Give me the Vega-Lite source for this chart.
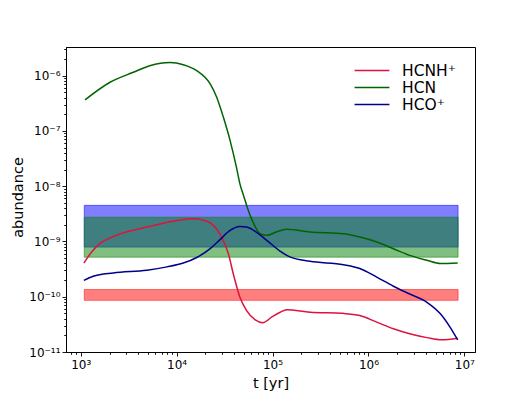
{
  "$schema": "https://vega.github.io/schema/vega-lite/v6.json",
  "width": 409,
  "height": 305,
  "autosize": "none",
  "padding": {"left": 66, "top": 47, "right": 54, "bottom": 46},
  "background": "white",
  "config": {
    "font": "DejaVu Sans",
    "view": {"stroke": "black", "strokeWidth": 1},
    "axis": {
      "grid": false,
      "domainColor": "black",
      "domainWidth": 1,
      "tickColor": "black",
      "tickWidth": 0.9,
      "labelColor": "black",
      "labelFont": "DejaVu Sans",
      "labelFontSize": 12,
      "titleFont": "DejaVu Sans",
      "titleFontWeight": "normal",
      "titleColor": "black"
    },
    "legend": {"labelFont": "DejaVu Sans"}
  },
  "datasets": {
    "bands": [
      {"species": "HCNH+", "t0": 1090, "t1": 8600000, "lo": 8.6e-11, "hi": 1.35e-10},
      {"species": "HCO+", "t0": 1090, "t1": 8600000, "lo": 7.9e-10, "hi": 4.5e-9},
      {"species": "HCN", "t0": 1090, "t1": 8600000, "lo": 5.2e-10, "hi": 2.75e-9}
    ],
    "curves": [
      {"species": "HCNH⁺", "t": 1080, "abundance": 4.07e-10},
      {"species": "HCNH⁺", "t": 1300, "abundance": 6.46e-10},
      {"species": "HCNH⁺", "t": 1580, "abundance": 9.12e-10},
      {"species": "HCNH⁺", "t": 2190, "abundance": 1.23e-9},
      {"species": "HCNH⁺", "t": 3270, "abundance": 1.55e-9},
      {"species": "HCNH⁺", "t": 4900, "abundance": 1.82e-9},
      {"species": "HCNH⁺", "t": 7240, "abundance": 2.14e-9},
      {"species": "HCNH⁺", "t": 10840, "abundance": 2.45e-9},
      {"species": "HCNH⁺", "t": 14930, "abundance": 2.57e-9},
      {"species": "HCNH⁺", "t": 20420, "abundance": 2.34e-9},
      {"species": "HCNH⁺", "t": 25120, "abundance": 1.82e-9},
      {"species": "HCNH⁺", "t": 29510, "abundance": 1.2e-9},
      {"species": "HCNH⁺", "t": 34670, "abundance": 6.0e-10},
      {"species": "HCNH⁺", "t": 38900, "abundance": 2.63e-10},
      {"species": "HCNH⁺", "t": 45710, "abundance": 9.8e-11},
      {"species": "HCNH⁺", "t": 53700, "abundance": 5.6e-11},
      {"species": "HCNH⁺", "t": 66070, "abundance": 3.8e-11},
      {"species": "HCNH⁺", "t": 79430, "abundance": 3.39e-11},
      {"species": "HCNH⁺", "t": 97720, "abundance": 4.27e-11},
      {"species": "HCNH⁺", "t": 120200, "abundance": 5.25e-11},
      {"species": "HCNH⁺", "t": 140600, "abundance": 5.82e-11},
      {"species": "HCNH⁺", "t": 245500, "abundance": 5.25e-11},
      {"species": "HCNH⁺", "t": 549500, "abundance": 5.0e-11},
      {"species": "HCNH⁺", "t": 812800, "abundance": 4.57e-11},
      {"species": "HCNH⁺", "t": 1220000, "abundance": 3.47e-11},
      {"species": "HCNH⁺", "t": 1820000, "abundance": 2.63e-11},
      {"species": "HCNH⁺", "t": 2690000, "abundance": 2.14e-11},
      {"species": "HCNH⁺", "t": 4070000, "abundance": 1.82e-11},
      {"species": "HCNH⁺", "t": 5750000, "abundance": 1.66e-11},
      {"species": "HCNH⁺", "t": 8510000, "abundance": 1.78e-11},
      {"species": "HCN", "t": 1110, "abundance": 3.65e-7},
      {"species": "HCN", "t": 2023, "abundance": 7.59e-7},
      {"species": "HCN", "t": 3540, "abundance": 1.15e-6},
      {"species": "HCN", "t": 5250, "abundance": 1.51e-6},
      {"species": "HCN", "t": 8510, "abundance": 1.73e-6},
      {"species": "HCN", "t": 11750, "abundance": 1.58e-6},
      {"species": "HCN", "t": 16220, "abundance": 1.23e-6},
      {"species": "HCN", "t": 22390, "abundance": 7.08e-7},
      {"species": "HCN", "t": 26180, "abundance": 4.07e-7},
      {"species": "HCN", "t": 30690, "abundance": 1.78e-7},
      {"species": "HCN", "t": 36060, "abundance": 6.76e-8},
      {"species": "HCN", "t": 42070, "abundance": 2.19e-8},
      {"species": "HCN", "t": 45710, "abundance": 1.1e-8},
      {"species": "HCN", "t": 50120, "abundance": 6.6e-9},
      {"species": "HCN", "t": 57540, "abundance": 3.16e-9},
      {"species": "HCN", "t": 64570, "abundance": 2.0e-9},
      {"species": "HCN", "t": 74130, "abundance": 1.38e-9},
      {"species": "HCN", "t": 87100, "abundance": 1.29e-9},
      {"species": "HCN", "t": 109600, "abundance": 1.48e-9},
      {"species": "HCN", "t": 140000, "abundance": 1.66e-9},
      {"species": "HCN", "t": 245500, "abundance": 1.48e-9},
      {"species": "HCN", "t": 549500, "abundance": 1.38e-9},
      {"species": "HCN", "t": 812800, "abundance": 1.2e-9},
      {"species": "HCN", "t": 1220000, "abundance": 9.8e-10},
      {"species": "HCN", "t": 1820000, "abundance": 7.4e-10},
      {"species": "HCN", "t": 2690000, "abundance": 5.6e-10},
      {"species": "HCN", "t": 4070000, "abundance": 4.57e-10},
      {"species": "HCN", "t": 5620000, "abundance": 3.98e-10},
      {"species": "HCN", "t": 8510000, "abundance": 4.07e-10},
      {"species": "HCO⁺", "t": 1080, "abundance": 1.97e-10},
      {"species": "HCO⁺", "t": 1350, "abundance": 2.34e-10},
      {"species": "HCO⁺", "t": 2190, "abundance": 2.69e-10},
      {"species": "HCO⁺", "t": 4900, "abundance": 3.02e-10},
      {"species": "HCO⁺", "t": 7940, "abundance": 3.47e-10},
      {"species": "HCO⁺", "t": 11750, "abundance": 4.07e-10},
      {"species": "HCO⁺", "t": 16220, "abundance": 5.13e-10},
      {"species": "HCO⁺", "t": 22390, "abundance": 7.41e-10},
      {"species": "HCO⁺", "t": 28180, "abundance": 1.07e-9},
      {"species": "HCO⁺", "t": 35480, "abundance": 1.55e-9},
      {"species": "HCO⁺", "t": 45710, "abundance": 1.86e-9},
      {"species": "HCO⁺", "t": 53700, "abundance": 1.82e-9},
      {"species": "HCO⁺", "t": 67610, "abundance": 1.48e-9},
      {"species": "HCO⁺", "t": 87100, "abundance": 1.05e-9},
      {"species": "HCO⁺", "t": 119700, "abundance": 6.68e-10},
      {"species": "HCO⁺", "t": 151400, "abundance": 5.25e-10},
      {"species": "HCO⁺", "t": 245500, "abundance": 4.37e-10},
      {"species": "HCO⁺", "t": 549500, "abundance": 3.8e-10},
      {"species": "HCO⁺", "t": 812800, "abundance": 3.24e-10},
      {"species": "HCO⁺", "t": 1220000, "abundance": 2.26e-10},
      {"species": "HCO⁺", "t": 1820000, "abundance": 1.55e-10},
      {"species": "HCO⁺", "t": 2690000, "abundance": 1.12e-10},
      {"species": "HCO⁺", "t": 4070000, "abundance": 7.94e-11},
      {"species": "HCO⁺", "t": 5620000, "abundance": 4.9e-11},
      {"species": "HCO⁺", "t": 7080000, "abundance": 2.82e-11},
      {"species": "HCO⁺", "t": 8510000, "abundance": 1.66e-11}
    ]
  },
  "layer": [
    {
      "data": {"name": "bands"},
      "mark": {"type": "rect", "fillOpacity": 0.5, "strokeOpacity": 0.5, "strokeWidth": 1},
      "encoding": {
        "x": {
          "field": "t0", "type": "quantitative",
          "scale": {"type": "log", "domain": [703, 12900000], "nice": false, "zero": false},
          "axis": {
            "orient": "bottom",
            "values": [1000, 10000, 100000, 1000000, 10000000],
            "tickSize": 4,
            "labelPadding": 3,
            "labelExpr": "'10' + ['⁰','¹','²','³','⁴','⁵','⁶','⁷','⁸'][round(log(datum.value)/LN10)]",
            "title": "t [yr]",
            "titleFontSize": 14.5,
            "titleX": 204.5,
            "titleY": 31,
            "titleBaseline": "middle",
            "titleAnchor": null
          }
        },
        "x2": {"field": "t1"},
        "y": {
          "field": "lo", "type": "quantitative",
          "scale": {"type": "log", "domain": [1e-11, 3.3e-6], "nice": false, "zero": false},
          "axis": {
            "orient": "left",
            "values": [1e-11, 1e-10, 1e-9, 1e-8, 1e-7, 1e-6],
            "tickSize": 4,
            "labelPadding": 2,
            "labelExpr": "'10⁻' + ['⁰','¹','²','³','⁴','⁵','⁶','⁷','⁸','⁹','¹⁰','¹¹','¹²'][round(-log(datum.value)/LN10)]",
            "title": "abundance",
            "titleFontSize": 14.5,
            "titleX": -48,
            "titleY": 150,
            "titleAngle": -90,
            "titleBaseline": "middle",
            "titleAlign": "center"
          }
        },
        "y2": {"field": "hi"},
        "color": {
          "field": "species", "type": "nominal",
          "scale": {"domain": ["HCNH+", "HCN", "HCO+"], "range": ["#ff0000", "#008000", "#0000ff"]},
          "legend": null
        },
        "stroke": {
          "field": "species", "type": "nominal",
          "scale": {"domain": ["HCNH+", "HCN", "HCO+"], "range": ["#ff0000", "#008000", "#0000ff"]},
          "legend": null
        }
      }
    },
    {
      "data": {"name": "curves"},
      "mark": {"type": "line", "strokeWidth": 1.5, "interpolate": "monotone"},
      "encoding": {
        "x": {
          "field": "t", "type": "quantitative",
          "axis": {
            "orient": "bottom",
            "values": [800, 900, 2000, 3000, 4000, 5000, 6000, 7000, 8000, 9000, 20000, 30000, 40000, 50000, 60000, 70000, 80000, 90000, 200000, 300000, 400000, 500000, 600000, 700000, 800000, 900000, 2000000, 3000000, 4000000, 5000000, 6000000, 7000000, 8000000, 9000000],
            "tickSize": 2.3,
            "labels": false,
            "domain": false,
            "title": null
          }
        },
        "y": {
          "field": "abundance", "type": "quantitative",
          "axis": {
            "orient": "left",
            "values": [2e-11, 3e-11, 4e-11, 5e-11, 6e-11, 7e-11, 8e-11, 9e-11, 2e-10, 3e-10, 4e-10, 5e-10, 6e-10, 7e-10, 8e-10, 9e-10, 2e-9, 3e-9, 4e-9, 5e-9, 6e-9, 7e-9, 8e-9, 9e-9, 2e-8, 3e-8, 4e-8, 5e-8, 6e-8, 7e-8, 8e-8, 9e-8, 2e-7, 3e-7, 4e-7, 5e-7, 6e-7, 7e-7, 8e-7, 9e-7, 2e-6, 3e-6],
            "tickSize": 2.3,
            "labels": false,
            "domain": false,
            "title": null
          }
        },
        "color": {
          "field": "species", "type": "nominal",
          "scale": {"domain": ["HCNH⁺", "HCN", "HCO⁺"], "range": ["#dc143c", "#006400", "#00008b"]},
          "legend": {
            "title": null,
            "orient": "none",
            "legendX": 297.5,
            "legendY": 15,
            "symbolType": "M-2.25,0H2.25",
            "symbolSize": 240,
            "symbolStrokeWidth": 1.5,
            "symbolFillColor": "transparent",
            "labelFontSize": 15.5,
            "labelOffset": 21.5,
            "rowPadding": 0,
            "labelColor": "black"
          }
        }
      }
    }
  ],
  "resolve": {
    "scale": {"color": "independent", "stroke": "independent"},
    "axis": {"x": "independent", "y": "independent"}
  }
}
